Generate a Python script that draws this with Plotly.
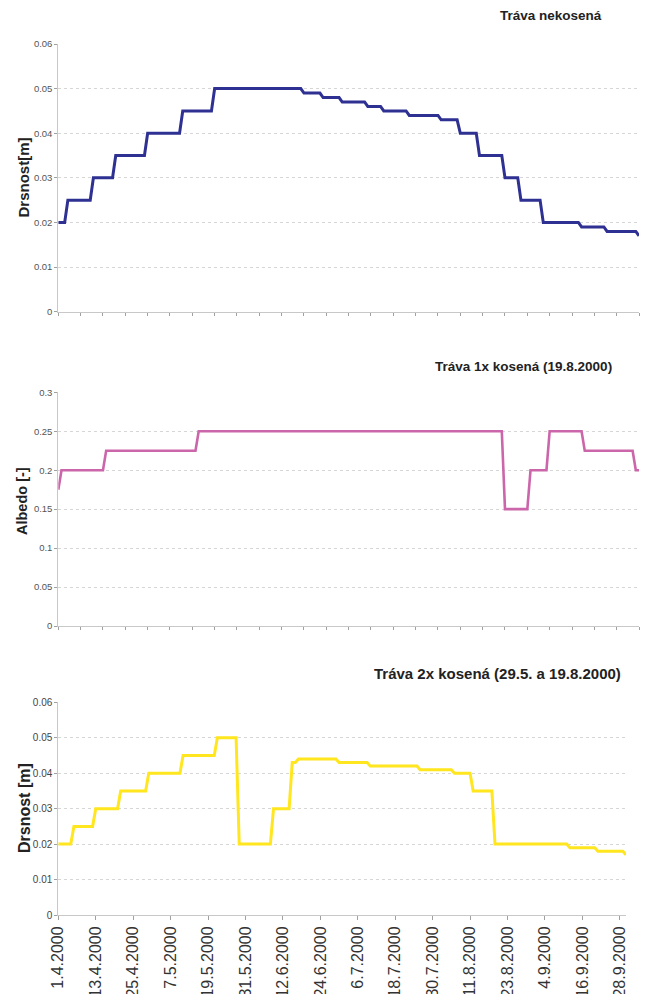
import datetime as dt
import plotly.graph_objects as go

# ---------------- data (step change points) ----------------
start_date = "2000-04-01"
end_date = "2000-09-30"

# Tráva nekosená – drsnost [m]
nekosena_dates = ["2000-04-01", "2000-04-04", "2000-04-12", "2000-04-19", "2000-04-29",
                  "2000-05-10", "2000-05-20", "2000-06-17", "2000-06-23", "2000-06-29",
                  "2000-07-07", "2000-07-12", "2000-07-20", "2000-07-30", "2000-08-05",
                  "2000-08-11", "2000-08-19", "2000-08-24", "2000-08-31", "2000-09-12",
                  "2000-09-20", "2000-09-30"]
nekosena_values = [0.020, 0.025, 0.030, 0.035, 0.040,
                   0.045, 0.050, 0.049, 0.048, 0.047,
                   0.046, 0.045, 0.044, 0.043, 0.040,
                   0.035, 0.030, 0.025, 0.020, 0.019,
                   0.018, 0.017]

# Tráva 1x kosená – albedo [-]
albedo_dates = ["2000-04-01", "2000-04-02", "2000-04-16", "2000-05-15", "2000-08-19",
                "2000-08-27", "2000-09-02", "2000-09-13", "2000-09-29"]
albedo_values = [0.175, 0.200, 0.225, 0.250, 0.150,
                 0.200, 0.250, 0.225, 0.200]

# Tráva 2x kosená – drsnost [m]
kosena2_dates = ["2000-04-01", "2000-04-06", "2000-04-13", "2000-04-21", "2000-04-30",
                 "2000-05-11", "2000-05-22", "2000-05-29", "2000-06-09", "2000-06-15",
                 "2000-06-17", "2000-06-30", "2000-07-10", "2000-07-26", "2000-08-06",
                 "2000-08-12", "2000-08-19", "2000-09-12", "2000-09-21", "2000-09-30"]
kosena2_values = [0.020, 0.025, 0.030, 0.035, 0.040,
                  0.045, 0.050, 0.020, 0.030, 0.043,
                  0.044, 0.043, 0.042, 0.041, 0.040,
                  0.035, 0.020, 0.019, 0.018, 0.017]

titles = ["Tráva nekosená", "Tráva 1x kosená (19.8.2000)", "Tráva 2x kosená (29.5. a 19.8.2000)"]
y_titles = ["Drsnost[m]", "Albedo [-]", "Drsnost [m]"]


def daily(change_dates, change_values):
    """Hold each read value until the next change point (daily series)."""
    d0 = dt.date.fromisoformat(start_date)
    d1 = dt.date.fromisoformat(end_date)
    cds = [dt.date.fromisoformat(s) for s in change_dates]
    xs, ys = [], []
    idx = 0
    d = d0
    while d <= d1:
        while idx + 1 < len(cds) and cds[idx + 1] <= d:
            idx += 1
        xs.append(d.isoformat())
        ys.append(change_values[idx])
        d += dt.timedelta(days=1)
    return xs, ys


H, W = 994, 648
FONT = "Liberation Sans, Arial, sans-serif"


def py(px):
    return 1 - px / H


fig = go.Figure()

x1, y1 = daily(nekosena_dates, nekosena_values)
x2, y2 = daily(albedo_dates, albedo_values)
x3, y3 = daily(kosena2_dates, kosena2_values)

fig.add_trace(go.Scatter(x=x1, y=y1, mode="lines", line=dict(color="#2E3192", width=3),
                         xaxis="x", yaxis="y", showlegend=False))
fig.add_trace(go.Scatter(x=x2, y=y2, mode="lines", line=dict(color="#CC66AA", width=2.6),
                         xaxis="x2", yaxis="y2", showlegend=False))
fig.add_trace(go.Scatter(x=x3, y=y3, mode="lines", line=dict(color="#FFE61E", width=3),
                         xaxis="x3", yaxis="y3", showlegend=False))

DAY = 86400000
common_x = dict(type="date", range=[start_date, end_date], showgrid=False, zeroline=False,
                showline=True, linecolor="#c8c8c8", linewidth=1, ticks="outside",
                tickcolor="#a0a0a0", ticklen=3, automargin=False, tick0=start_date)
common_y = dict(showgrid=True, gridcolor="#d6d6d6", griddash="dot", gridwidth=1,
                zeroline=False, showline=True, linecolor="#c8c8c8", linewidth=1,
                ticks="outside", tickcolor="#a0a0a0", ticklen=3, automargin=False,
                tickformat="~.2f", tickfont=dict(family=FONT, size=9.5, color="#555555"))

fig.update_layout(
    width=W, height=H,
    margin=dict(l=0, r=0, t=0, b=0),
    paper_bgcolor="white", plot_bgcolor="white",
    separators=", ",
    font=dict(family=FONT, color="#222222"),
    xaxis=dict(common_x, domain=[58.3 / W, 639 / W], anchor="y", dtick=7 * DAY,
               showticklabels=False),
    yaxis=dict(common_y, domain=[py(311.7), py(44)], anchor="x", range=[0, 0.06], dtick=0.01),
    xaxis2=dict(common_x, domain=[58.3 / W, 639 / W], anchor="y2", dtick=7 * DAY,
                showticklabels=False),
    yaxis2=dict(common_y, domain=[py(626), py(392.3)], anchor="x2", range=[0, 0.3], dtick=0.05),
    xaxis3=dict(common_x, domain=[58.3 / W, 626 / W], anchor="y3", dtick=12 * DAY,
                tickformat="%-d.%-m.%Y", tickangle=-90, ticklen=4,
                tickfont=dict(family=FONT, size=16, color="#333333")),
    yaxis3=dict(common_y, domain=[py(915), py(702.3)], anchor="x3", range=[0, 0.06], dtick=0.01,
                tickfont=dict(family=FONT, size=10, color="#444444")),
)

ann = dict(xref="paper", yref="paper", showarrow=False, xanchor="center", yanchor="middle")

# panel titles
fig.add_annotation(ann, text="<b>" + titles[0] + "</b>", x=551 / W, y=py(15),
                   font=dict(family=FONT, size=13.5, color="#222222"))
fig.add_annotation(ann, text="<b>" + titles[1] + "</b>", x=523 / W, y=py(367),
                   font=dict(family=FONT, size=13.5, color="#222222"))
fig.add_annotation(ann, text="<b>" + titles[2] + "</b>", x=497 / W, y=py(673),
                   font=dict(family=FONT, size=15, color="#222222"))

# y-axis titles
fig.add_annotation(ann, text="<b>" + y_titles[0] + "</b>", x=23 / W, y=py(177.5), textangle=-90,
                   font=dict(family=FONT, size=15, color="#222222"))
fig.add_annotation(ann, text="<b>" + y_titles[1] + "</b>", x=22 / W, y=py(501), textangle=-90,
                   font=dict(family=FONT, size=14.5, color="#222222"))
fig.add_annotation(ann, text="<b>" + y_titles[2] + "</b>", x=24 / W, y=py(808), textangle=-90,
                   font=dict(family=FONT, size=16, color="#222222"))

fig.write_html("out.html",
               config={"displayModeBar": False},
               post_script="document.body.style.margin='0px';document.body.style.overflow='hidden';")
